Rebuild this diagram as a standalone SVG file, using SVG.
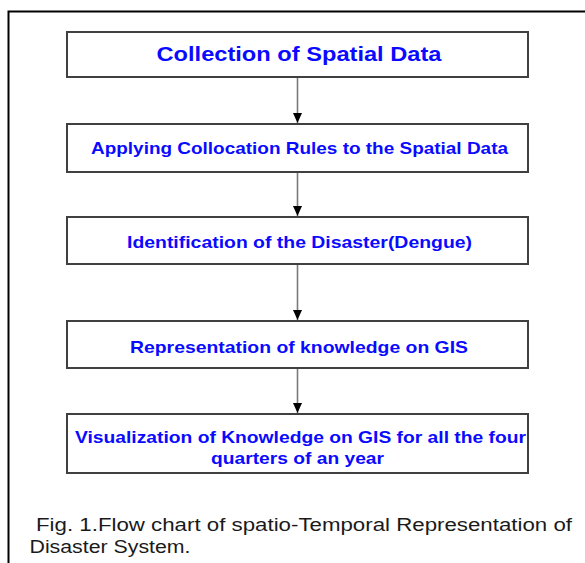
<svg xmlns="http://www.w3.org/2000/svg" width="585" height="563" viewBox="0 0 585 563">
  <style>
    .box { fill: #ffffff; stroke: #404040; stroke-width: 2; }
    .label { font-family: "Liberation Sans", Arial, sans-serif; font-weight: bold; fill: #0a0aff; text-anchor: middle; }
    .link { stroke: #7a7a7a; stroke-width: 1.6; fill: none; }
    .caption { font-family: "Liberation Sans", Arial, sans-serif; font-size: 17.5px; fill: #1a1a1a; }
  </style>
  <defs>
    <marker id="arrow" viewBox="0 0 10 9" refX="10" refY="4.5" markerWidth="10" markerHeight="9" markerUnits="userSpaceOnUse" orient="auto">
      <path d="M0,0 L10,4.5 L0,9 Z" fill="#000000"/>
    </marker>
  </defs>

  <rect width="585" height="563" fill="#ffffff"/>
  <!-- figure frame, open to the right and bottom -->
  <path d="M8.5,563 V11.5 H585" fill="none" stroke="#000000" stroke-width="2"/>

  <g id="connectors">
    <line class="link" x1="297.5" y1="77" x2="297.5" y2="123" marker-end="url(#arrow)"/>
    <line class="link" x1="297.5" y1="172" x2="297.5" y2="216" marker-end="url(#arrow)"/>
    <line class="link" x1="297.5" y1="264" x2="297.5" y2="320" marker-end="url(#arrow)"/>
    <line class="link" x1="297.5" y1="368" x2="297.5" y2="413" marker-end="url(#arrow)"/>
  </g>

  <g id="collection">
    <rect class="box" x="67" y="32" width="461" height="45"/>
    <text class="label" x="299" y="61" font-size="20" textLength="285" lengthAdjust="spacingAndGlyphs">Collection of Spatial Data</text>
  </g>

  <g id="collocation">
    <rect class="box" x="67" y="124" width="461" height="48"/>
    <text class="label" x="299.5" y="154" font-size="16.3" textLength="417" lengthAdjust="spacingAndGlyphs">Applying Collocation Rules to the Spatial Data</text>
  </g>

  <g id="identification">
    <rect class="box" x="67" y="217" width="461" height="47"/>
    <text class="label" x="299.5" y="248" font-size="16.3" textLength="345" lengthAdjust="spacingAndGlyphs">Identification of the Disaster(Dengue)</text>
  </g>

  <g id="representation">
    <rect class="box" x="67" y="321" width="461" height="47"/>
    <text class="label" x="299" y="353" font-size="16.3" textLength="338" lengthAdjust="spacingAndGlyphs">Representation of knowledge on GIS</text>
  </g>

  <g id="visualization">
    <rect class="box" x="67" y="414" width="461" height="59"/>
    <text class="label" x="300.5" y="443" font-size="16.3" textLength="451" lengthAdjust="spacingAndGlyphs">Visualization of Knowledge on GIS for all the four</text>
    <text class="label" x="297.5" y="464" font-size="16.3" textLength="173" lengthAdjust="spacingAndGlyphs">quarters of an year</text>
  </g>

  <g id="caption">
    <text class="caption" x="36" y="531" textLength="536" lengthAdjust="spacingAndGlyphs">Fig. 1.Flow chart of spatio-Temporal Representation of</text>
    <text class="caption" x="29.5" y="553" textLength="161" lengthAdjust="spacingAndGlyphs">Disaster System.</text>
  </g>
</svg>
